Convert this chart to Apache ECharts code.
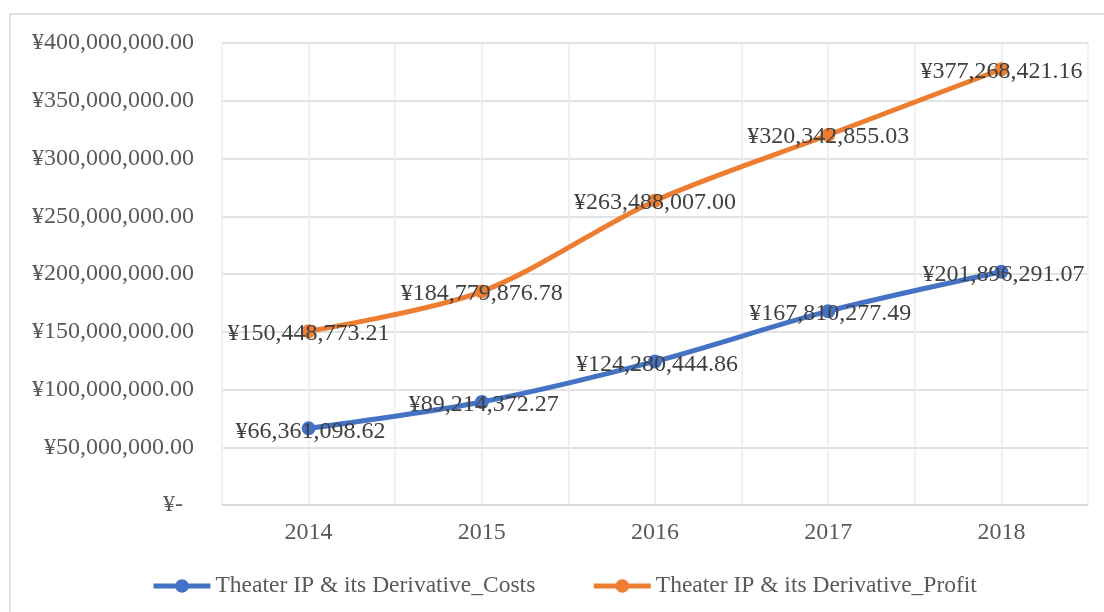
<!DOCTYPE html>
<html>
<head>
<meta charset="utf-8">
<script src="https://cdn.jsdelivr.net/npm/echarts@6/dist/echarts.min.js"></script>
<style>
html,body{margin:0;padding:0;background:#fff;}
#chart{width:1104px;height:612px;}
</style>
</head>
<body>
<div id="chart"></div>
<script>
const years = ['2014', '2015', '2016', '2017', '2018'];
const costs = [66361098.62, 89214372.27, 124280444.86, 167810277.49, 201896291.07];
const profit = [150448773.21, 184779876.78, 263488007.00, 320342855.03, 377268421.16];
const seriesNames = ['Theater IP & its Derivative_Costs', 'Theater IP & its Derivative_Profit'];
const yMin = 0, yMax = 400000000, yStep = 50000000;

const FONT = '"Liberation Serif", "Times New Roman", serif';
const FS = 24;
function money(v) {
  return '¥' + Number(v).toLocaleString('en-US', {minimumFractionDigits: 2, maximumFractionDigits: 2});
}

const chart = echarts.init(document.getElementById('chart'), null, {renderer: 'canvas'});
chart.setOption({
  backgroundColor: '#fff',
  animation: false,
  textStyle: {fontFamily: FONT},
  graphic: [{
    type: 'rect', z: -1,
    shape: {x: 10, y: 14, width: 1200, height: 700},
    style: {fill: 'none', stroke: '#d9d9d9', lineWidth: 1.5}
  }],
  grid: {left: 222, right: 16, top: 43, bottom: 107, containLabel: false},
  legend: {
    left: 151, top: 574, padding: 0,
    itemWidth: 57, itemHeight: 17, itemGap: 56,
    lineStyle: {width: 5},
    textStyle: {fontFamily: FONT, fontSize: 23.5, color: '#595959'},
    data: seriesNames
  },
  xAxis: [{
    type: 'category', data: years, boundaryGap: true,
    axisLine: {show: true, lineStyle: {color: '#d9d9d9', width: 1.5}},
    axisTick: {show: false},
    axisLabel: {fontFamily: FONT, fontSize: FS, color: '#595959', margin: 16},
    splitLine: {show: false}
  }, {
    type: 'value', min: 0, max: 10, interval: 1, position: 'bottom',
    axisLine: {show: false}, axisTick: {show: false}, axisLabel: {show: false},
    splitLine: {show: true, lineStyle: {color: '#ececec', width: 1.5}}
  }],
  yAxis: {
    type: 'value', min: yMin, max: yMax, interval: yStep,
    axisLine: {show: false}, axisTick: {show: false},
    axisLabel: {
      fontFamily: FONT, fontSize: FS, color: '#595959', margin: 28,
      formatter: v => v === 0 ? '{z|¥-}' : money(v),
      rich: {z: {fontFamily: FONT, fontSize: FS, color: '#595959', padding: [0, 11, 0, 0]}}
    },
    splitLine: {lineStyle: {color: '#d9d9d9', width: 1.5}}
  },
  series: [{
    name: seriesNames[0], type: 'line', data: costs, smooth: 0.3,
    symbol: 'circle', symbolSize: 14,
    lineStyle: {color: '#4472C4', width: 5},
    itemStyle: {color: '#4472C4'},
    label: {show: true, position: 'inside', offset: [2, 3], fontFamily: FONT, fontSize: FS, color: '#404040',
      formatter: p => money(p.value)},
    z: 3
  }, {
    name: seriesNames[1], type: 'line', data: profit, smooth: 0.3,
    symbol: 'circle', symbolSize: 14,
    lineStyle: {color: '#ED7D31', width: 5},
    itemStyle: {color: '#ED7D31'},
    label: {show: true, position: 'inside', offset: [0, 2], fontFamily: FONT, fontSize: FS, color: '#404040',
      formatter: p => money(p.value)},
    z: 4
  }]
});
</script>
</body>
</html>
